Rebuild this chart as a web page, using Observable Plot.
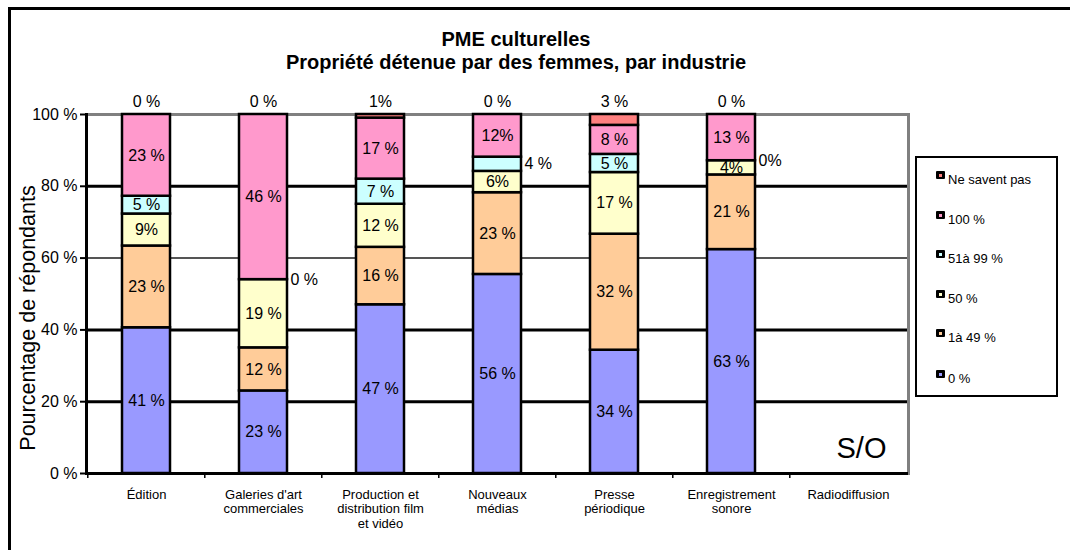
<!DOCTYPE html>
<html>
<head>
<meta charset="utf-8">
<script src="https://cdn.jsdelivr.net/npm/d3@7"></script>
<script src="https://cdn.jsdelivr.net/npm/@observablehq/plot@0.6"></script>
<style>
  body { margin: 0; background: #fff; font-family: "Liberation Sans", Arial, sans-serif; }
  #wrap { position: relative; width: 1070px; height: 550px; overflow: hidden; background: #fff; }
  #chart { position: absolute; left: 0; top: 0; }
  #frame { position: absolute; left: 8px; top: 7px; width: 1200px; height: 700px;
           border-left: 3px solid #000; border-top: 3px solid #000; pointer-events: none; }
  #title { position: absolute; left: 0; top: 28px; width: 1032px; text-align: center;
           font-weight: bold; font-size: 20px; line-height: 23px; color: #000; }
  #legend { position: absolute; left: 915px; top: 156px; width: 139px; height: 237px;
            border: 2px solid #000; background: #fff; }
  .item { position: absolute; left: 0; font-size: 13px; line-height: 15px; white-space: nowrap; }
  .mk { position: absolute; width: 9px; height: 8px; background: #000; border-radius: 1px; }
  .mk span { position: absolute; left: 3px; top: 2.5px; width: 3px; height: 3px; }
  .tx { position: absolute; left: 31px; top: 0; }
</style>
</head>
<body>
<div id="wrap">
  <div id="chart"></div>
  <div id="frame"></div>
  <div id="title">PME culturelles<br>Propriété détenue par des femmes, par industrie</div>
  <div id="legend"></div>
</div>
<script>
// ---- Data ----
const industries = [
  "Édition",
  "Galeries d'art\ncommerciales",
  "Production et\ndistribution film\net vidéo",
  "Nouveaux\nmédias",
  "Presse\npériodique",
  "Enregistrement\nsonore",
  "Radiodiffusion"
];
const seriesNames = ["0 %", "1à 49 %", "50 %", "51à 99 %", "100 %", "Ne savent pas"];
const seriesColors = ["#9999FF", "#FFCC99", "#FFFFCC", "#CCFFFF", "#FF99CC", "#FF8080"];

const valZero     = [41, 23, 47, 56, 34, 63, null];
const valOneTo49  = [23, 12, 16, 23, 32, 21, null];
const valFifty    = [9, 19, 12, 6, 17, 4, null];
const valFiftyOne = [5, 0, 7, 4, 5, 0, null];
const valHundred  = [23, 46, 17, 12, 8, 13, null];
const valNSP      = [0, 0, 1, 0, 3, 0, null];

const lblZero     = ["41 %", "23 %", "47 %", "56 %", "34 %", "63 %", null];
const lblOneTo49  = ["23 %", "12 %", "16 %", "23 %", "32 %", "21 %", null];
const lblFifty    = ["9%", "19 %", "12 %", "6%", "17 %", "4%", null];
const lblFiftyOne = ["5 %", "0 %", "7 %", "4 %", "5 %", "0%", null];
const lblHundred  = ["23 %", "46 %", "17 %", "12%", "8 %", "13 %", null];
const lblNSP      = ["0 %", "0 %", "1%", "0 %", "3 %", "0 %", null];

const yTicks = [0, 20, 40, 60, 80, 100];
const noDataText = "S/O";
const yLabel = "Pourcentage de répondants";

// ---- Build stacked table (normalized to 100 %) ----
const seriesValues = [valZero, valOneTo49, valFifty, valFiftyOne, valHundred, valNSP];
const seriesLabels = [lblZero, lblOneTo49, lblFifty, lblFiftyOne, lblHundred, lblNSP];
const rows = [];
industries.forEach((ind, i) => {
  if (valZero[i] == null) return;
  const total = d3.sum(seriesValues, s => s[i]);
  let cum = 0;
  seriesValues.forEach((s, k) => {
    const v = s[i];
    const y1 = cum / total * 100, y2 = (cum + v) / total * 100;
    cum += v;
    let pos = "in";
    if (seriesNames[k] === "Ne savent pas") pos = "top";
    else if (v === 0 || (seriesNames[k] === "51à 99 %" && v <= 4)) pos = "right";
    rows.push({industry: ind, series: seriesNames[k], v, y1, y2, mid: (y1 + y2) / 2, label: seriesLabels[k][i], pos});
  });
});

const W = 1070, H = 550, ML = 86, MR = 162, MT = 114, MB = 77;
const halfStep = (W - ML - MR) / industries.length / 2;
const barPad = 0.587;

const chart = Plot.plot({
  width: W, height: H,
  marginLeft: ML, marginRight: MR, marginTop: MT, marginBottom: MB,
  style: {fontFamily: "'Liberation Sans', Arial, sans-serif", background: "transparent", color: "black"},
  x: {domain: industries, paddingInner: barPad, paddingOuter: barPad / 2},
  y: {domain: [0, 100]},
  color: {domain: seriesNames, range: seriesColors},
  marks: [
    Plot.ruleY([20, 40, 80], {stroke: "black", strokeWidth: 3}),
    Plot.ruleY([60], {stroke: "#555", strokeWidth: 2}),
    Plot.ruleY([100], {stroke: "#808080", strokeWidth: 3}),
    Plot.frame({anchor: "right", stroke: "#808080", strokeWidth: 3}),
    Plot.barY(rows.filter(d => d.v > 0), {
      x: "industry", y1: "y1", y2: "y2", fill: "series",
      stroke: "black", strokeWidth: 2.5
    }),
    Plot.ruleY([0], {stroke: "black", strokeWidth: 3}),
    Plot.frame({anchor: "left", stroke: "black", strokeWidth: 3}),
    Plot.axisY({ticks: yTicks, tickFormat: d => d + " %", tickSize: 6, tickPadding: 3,
                fontSize: 16, stroke: "black", strokeWidth: 2, label: null}),
    Plot.axisX({tickSize: 0, tickPadding: 15, fontSize: 13, lineHeight: 1.12, label: null}),
    Plot.axisX({tickSize: 5, tickFormat: () => "", dx: -halfStep, stroke: "black", strokeWidth: 1.5, label: null}),
    Plot.text(rows.filter(d => d.pos === "in"), {
      x: "industry", y: "mid", text: "label", fontSize: 16, fill: "black"
    }),
    Plot.text(rows.filter(d => d.pos === "top"), {
      x: "industry", y: "y2", text: "label", fontSize: 16, fill: "black", dy: -13
    }),
    Plot.text(rows.filter(d => d.pos === "right"), {
      x: "industry", y: "mid", text: "label", fontSize: 16, fill: "black",
      textAnchor: "start", dx: 27
    }),
    Plot.text([noDataText], {
      text: d => d, frameAnchor: "bottom-right", textAnchor: "end", lineAnchor: "middle",
      fontSize: 29, dx: -22, dy: -25, fill: "black"
    }),
    Plot.text([yLabel], {
      text: d => d, frameAnchor: "left", textAnchor: "middle", lineAnchor: "middle",
      rotate: -90, fontSize: 21.5, dx: -58, dy: 24, fill: "black"
    })
  ]
});
document.getElementById("chart").appendChild(chart);

// ---- Legend (top to bottom: reverse stacking order) ----
const legend = document.getElementById("legend");
const baselines = [184, 224, 263, 303, 342, 383];
seriesNames.slice().reverse().forEach((name, j) => {
  const k = seriesNames.length - 1 - j;
  const item = document.createElement("div");
  item.className = "item";
  const top = baselines[j] - 158 - 12;
  item.style.top = top + "px";
  item.style.left = "0px";
  item.innerHTML = `<div class="mk" style="left:19px;top:-1px"><span style="background:${seriesColors[k]}"></span></div><div class="tx">${name}</div>`;
  legend.appendChild(item);
});
</script>
</body>
</html>
